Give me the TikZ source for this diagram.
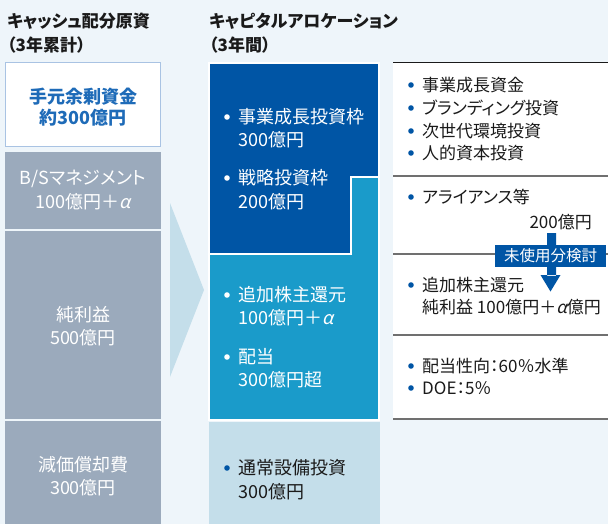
\documentclass[tikz,border=0pt]{standalone}
\usepackage{fontspec}
\setmainfont{Noto Sans CJK JP}[RawFeature={+palt}]
\newfontfamily\slfont{Noto Sans CJK JP}[FakeSlant=0.22]
\newcommand{\alp}{{\slfont α}}
\definecolor{bgc}{HTML}{EEF5FA}
\definecolor{grayc}{HTML}{9BAABC}
\definecolor{darkb}{HTML}{0055A5}
\definecolor{midb}{HTML}{1A9BCA}
\definecolor{lightb}{HTML}{C4DEEA}
\definecolor{txtb}{HTML}{1E6BB8}
\definecolor{brd}{HTML}{A9C3E3}
\definecolor{txtk}{HTML}{1A1A1A}
\definecolor{linec}{HTML}{707070}
\tikzset{
  ttl/.style={anchor=base west,inner sep=0pt,font=\fontsize{17}{20}\selectfont\bfseries,text=txtk},
  lt/.style={anchor=base,inner sep=0pt,font=\fontsize{18}{22}\selectfont,text=white},
  mt/.style={anchor=base west,inner sep=0pt,font=\fontsize{18}{22}\selectfont,text=white},
  rt/.style={anchor=base west,inner sep=0pt,font=\fontsize{17}{20}\selectfont,text=txtk},
  wbul/.style={fill=white},
  bbul/.style={fill=darkb},
  sep/.style={draw=linec,line width=1.3pt},
}
\begin{document}
\begin{tikzpicture}[x=1pt,y=-1pt]
\useasboundingbox (0,0) rectangle (608,524);
\fill[bgc] (0,0) rectangle (608,524);
% titles
\node[ttl] (t1) at (7,27.5) {キャッシュ配分原資};
\node[ttl] (t2) at (7,52) {（3年累計）};
\node[ttl] (t3) at (209,27.5) {キャピタルアロケーション};
\node[ttl] (t4) at (209,52) {（3年間）};
% left column
\fill[white] (5,62) rectangle (161,147);
\draw[brd,line width=1pt] (5.5,62.5) rectangle (160.5,146.5);
\fill[grayc] (5,152) rectangle (161,229);
\fill[grayc] (5,231) rectangle (161,419);
\fill[grayc] (5,421) rectangle (161,524);
\node[lt,text=txtb,font=\fontsize{18}{22}\selectfont\bfseries] (a1) at (83,103.7) {手元余剰資金};
\node[lt,text=txtb,font=\fontsize{18}{22}\selectfont\bfseries] (a2) at (83,124.7) {約300億円};
\node[lt] (b1) at (83,184.7) {B/Sマネジメント};
\node[lt] (b2) at (83,208.7) {100億円＋\alp};
\node[lt] (c1) at (83,321.7) {純利益};
\node[lt] (c2) at (83,344.7) {500億円};
\node[lt] (d1) at (83,471.7) {減価償却費};
\node[lt] (d2) at (83,494.7) {300億円};
% chevron
\fill[lightb] (170,203) -- (204,290) -- (170,377) -- cycle;
% middle column
\fill[midb] (209,176) rectangle (379,420);
\fill[darkb,draw=white,line width=1.5pt] (209,63) -- (379,63) -- (379,177) -- (351,177) -- (351,254) -- (209,254) -- cycle;
\draw[white,line width=1.5pt] (351,177) -- (379,177) -- (379,420) -- (209,420) -- (209,254);
\fill[lightb] (209,422) rectangle (380,524);
\fill[wbul] (227,117) circle (2.8);
\node[mt] (m1) at (238,123.7) {事業成長投資枠};
\node[mt] (m2) at (238,146.7) {300億円};
\fill[wbul] (227,178) circle (2.8);
\node[mt] (m3) at (238,184.7) {戦略投資枠};
\node[mt] (m4) at (238,208.7) {200億円};
\fill[wbul] (227,295) circle (2.8);
\node[mt] (m5) at (238,301.7) {追加株主還元};
\node[mt] (m6) at (238,324.7) {100億円＋\alp};
\fill[wbul] (227,357) circle (2.8);
\node[mt] (m7) at (238,363.7) {配当};
\node[mt] (m8) at (238,386.7) {300億円超};
\fill[bbul] (227,468) circle (2.8);
\node[mt,text=txtk] (m9) at (238,474.7) {通常設備投資};
\node[mt,text=txtk] (m10) at (238,498.7) {300億円};
% right column
\fill[white] (393,62) rectangle (608,419);
\draw[txtk,line width=1pt] (393,62.5) -- (608,62.5);
\draw[sep] (393,176) -- (608,176);
\draw[sep] (393,254) -- (608,254);
\draw[sep] (393,335) -- (608,335);
\draw[sep] (393,419) -- (608,419);
\fill[bbul] (411,85) circle (2.8);
\node[rt] (r1) at (422,91.3) {事業成長資金};
\fill[bbul] (411,108) circle (2.8);
\node[rt] (r2) at (422,114.3) {ブランディング投資};
\fill[bbul] (411,131) circle (2.8);
\node[rt] (r3) at (422,137.3) {次世代環境投資};
\fill[bbul] (411,153) circle (2.8);
\node[rt] (r4) at (422,159.3) {人的資本投資};
\fill[bbul] (411,197) circle (2.8);
\node[rt] (r5) at (422,203.3) {アライアンス等};
\node[rt,anchor=base east] (r6) at (592,228.3) {200億円};
\fill[bbul] (411,285) circle (2.8);
\node[rt] (r7) at (422,291.3) {追加株主還元};
\node[rt] (r8) at (422,313.3) {純利益 100億円＋\alp 億円};
\fill[bbul] (411,366) circle (2.8);
\node[rt] (r9) at (422,372.3) {配当性向：60％水準};
\fill[bbul] (411,388) circle (2.8);
\node[rt] (r10) at (422,394.3) {DOE：5％};
% arrow
\fill[darkb] (547,233) rectangle (556,276) (540.5,275) -- (560.5,275) -- (550.5,291.5) -- cycle;
\fill[darkb] (495,245) rectangle (606,267);
\node[anchor=base,inner sep=0pt,font=\fontsize{15.5}{18}\selectfont,text=white] (lab) at (550.5,261.7) {未使用分検討};
\end{tikzpicture}
\end{document}
